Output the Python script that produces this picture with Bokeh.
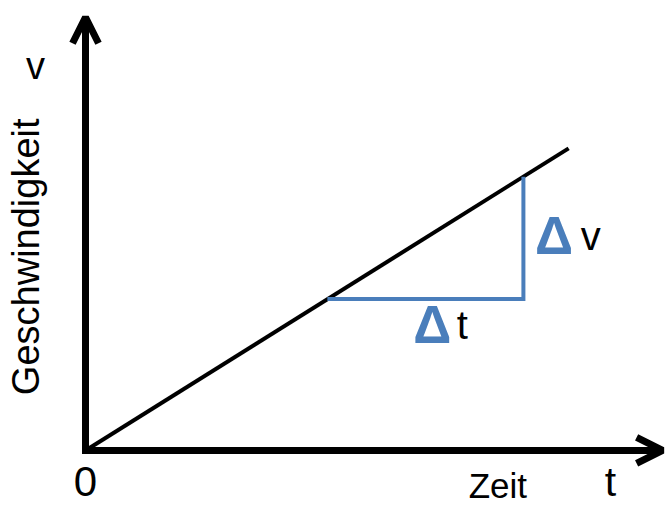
from bokeh.plotting import figure
from bokeh.models import Range1d, Arrow, OpenHead
from bokeh.core.properties import value
from bokeh.embed import file_html
from bokeh.resources import INLINE
import math

# ---- data (abstract units: t = Zeit, v = Geschwindigkeit) ----
line_t = [0.0, 8.33]          # black v(t) line
line_v = [0.0, 5.21]
tri_t = [4.17, 7.55, 7.55]    # slope triangle (Δt then Δv)
tri_v = [2.61, 2.61, 4.72]
axis_t_max = 9.95             # end of t arrow
axis_v_max = 7.47             # end of v arrow

BLUE = "#4a7ebb"
FONT = "Liberation Sans"

p = figure(width=670, height=507, output_backend="svg", toolbar_location=None,
           x_range=Range1d(-1.4655, 10.086), y_range=Range1d(-0.983, 7.759),
           min_border=0)
p.axis.visible = False
p.grid.visible = False
p.outline_line_color = None
p.background_fill_color = "white"
p.border_fill_color = "white"

# axes as arrows
p.add_layout(Arrow(end=OpenHead(size=26, line_width=7, line_color="black"),
                   x_start=-0.06, y_start=0, x_end=axis_t_max, y_end=0,
                   line_width=7, line_color="black"))
p.add_layout(Arrow(end=OpenHead(size=26, line_width=7, line_color="black"),
                   x_start=0, y_start=-0.06, x_end=0, y_end=axis_v_max,
                   line_width=7, line_color="black"))

# v(t) line
p.line(line_t, line_v, line_width=4, line_color="black")

# slope triangle
p.line(tri_t, tri_v, line_width=4, line_color=BLUE, line_join="miter")

def txt(x, y, s, size, color="black", font=FONT, style="normal", align="left",
        baseline="alphabetic", angle=0.0):
    p.text(x=[x], y=[y], text=[s], text_font=value(font), text_font_size=f"{size}px",
           text_color=color, text_font_style=style, text_align=align,
           text_baseline=baseline, angle=angle)

# labels
txt(-0.86, 6.63, "v", 38, align="center")
txt(-1.03, 3.34, "Geschwindigkeit", 38, align="center", angle=math.pi / 2)
txt(0.0, -0.536, "0", 42, align="center")
txt(7.11, -0.61, "Zeit", 35, align="center")
txt(9.05, -0.55, "t", 41, align="center")

# Δv
txt(7.75, 3.70, "Δ", 53, color=BLUE, font=FONT, style="bold")
txt(8.54, 3.70, "v", 40)
# Δt
txt(5.65, 2.17, "Δ", 53, color=BLUE, font=FONT, style="bold")
txt(6.40, 2.17, "t", 40)

open("out.html", "w").write(file_html(p, INLINE))
